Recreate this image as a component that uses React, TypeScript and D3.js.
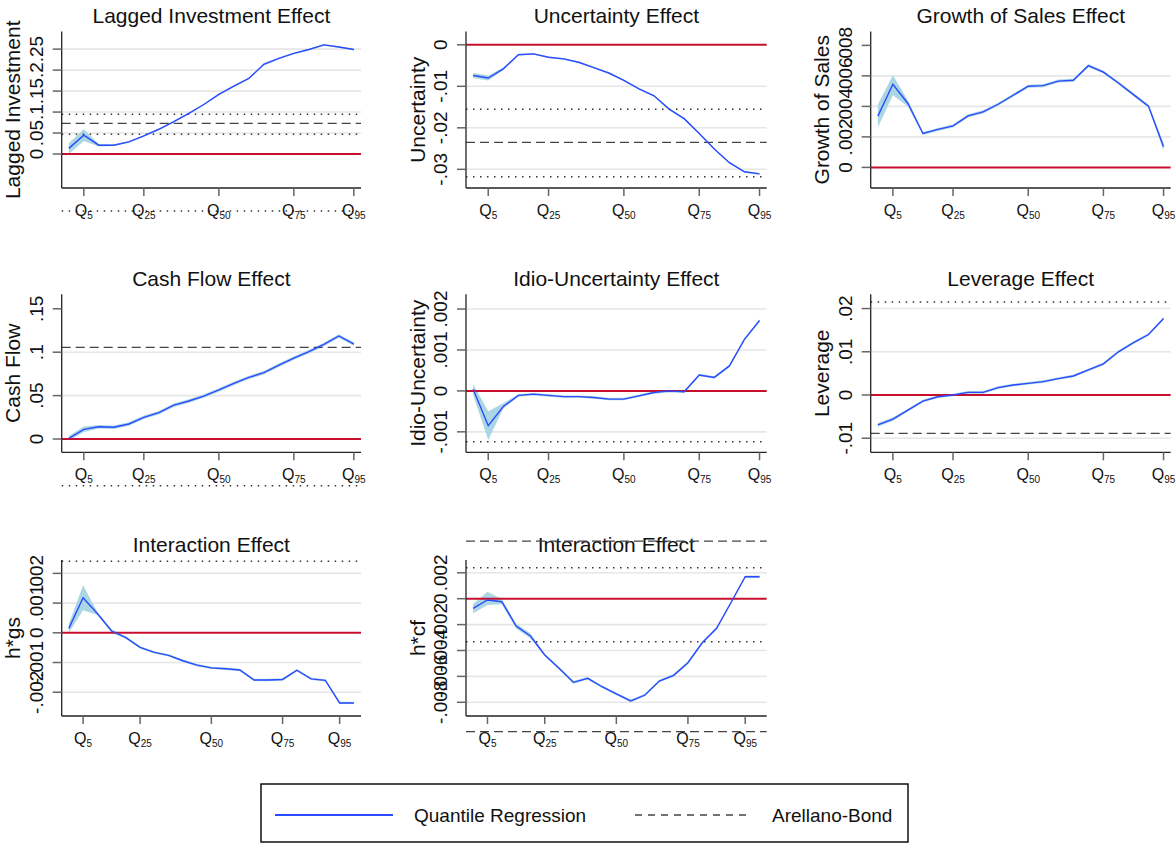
import React from 'react'
import * as d3 from 'd3'

// quantile grid used by the estimates
const quantiles = [0, 5, 10, 15, 20, 25, 30, 35, 40, 45, 50, 55, 60, 65, 70, 75, 80, 85, 90, 95]
const quantilesFull = [0, 5, 10, 15, 20, 25, 30, 35, 40, 45, 50, 55, 60, 65, 70, 75, 80, 85, 90, 95, 100]
const quantileTicks = [5, 25, 50, 75, 95]

// Lagged investment
const lagInvEst = [0.0135, 0.045, 0.021, 0.021, 0.029, 0.043, 0.059, 0.077, 0.097, 0.118, 0.142, 0.162, 0.18, 0.214, 0.228, 0.24, 0.249, 0.26, 0.255, 0.249]
const lagInvLo = [0.0, 0.031, 0.018, 0.019, 0.027, 0.041, 0.057, 0.075, 0.095, 0.116, 0.14, 0.16, 0.178, 0.211, 0.226, 0.238, 0.247, 0.258, 0.253, 0.247]
const lagInvHi = [0.026, 0.059, 0.024, 0.023, 0.031, 0.045, 0.061, 0.079, 0.099, 0.12, 0.144, 0.164, 0.182, 0.217, 0.23, 0.242, 0.251, 0.262, 0.257, 0.251]
const lagInvTicks = [0, 0.05, 0.1, 0.15, 0.2, 0.25]

// Uncertainty
const uncEst = [-0.0074, -0.008, -0.0058, -0.0024, -0.0022, -0.003, -0.0034, -0.0042, -0.0055, -0.0068, -0.0086, -0.0106, -0.0123, -0.0155, -0.0178, -0.0214, -0.0251, -0.0284, -0.0306, -0.0311]
const uncLo = [-0.008, -0.0086, -0.0061, -0.0026, -0.0024, -0.0032, -0.0036, -0.0044, -0.0057, -0.007, -0.0088, -0.0108, -0.0125, -0.0157, -0.018, -0.0216, -0.0253, -0.0286, -0.0308, -0.0313]
const uncHi = [-0.0068, -0.0074, -0.0055, -0.0022, -0.002, -0.0028, -0.0032, -0.004, -0.0053, -0.0066, -0.0084, -0.0104, -0.0121, -0.0153, -0.0176, -0.0212, -0.0249, -0.0282, -0.0304, -0.0309]
const uncTicks = [-0.03, -0.02, -0.01, 0]

// Growth of sales
const gsEst = [0.00336, 0.00545, 0.00419, 0.00222, 0.00249, 0.00272, 0.00338, 0.00364, 0.00414, 0.00473, 0.00532, 0.00536, 0.00566, 0.00571, 0.00667, 0.00625, 0.00553, 0.00477, 0.00401, 0.00135]
const gsLo = [0.00262, 0.00473, 0.00399, 0.00212, 0.00239, 0.00262, 0.00328, 0.00354, 0.00404, 0.00463, 0.00522, 0.00526, 0.00556, 0.00561, 0.00657, 0.00615, 0.00543, 0.00467, 0.00391, 0.0011]
const gsHi = [0.00413, 0.00604, 0.00439, 0.00232, 0.00259, 0.00282, 0.00348, 0.00374, 0.00424, 0.00483, 0.00542, 0.00546, 0.00576, 0.00581, 0.00677, 0.00635, 0.00563, 0.00487, 0.00411, 0.0016]
const gsTicks = [0, 0.002, 0.004, 0.006, 0.008]

// Cash flow
const cfEst = [0.0008, 0.0112, 0.0142, 0.0135, 0.0173, 0.025, 0.0303, 0.039, 0.0438, 0.0495, 0.0565, 0.064, 0.071, 0.0764, 0.085, 0.0933, 0.1006, 0.109, 0.1187, 0.1094]
const cfLo = [-0.002, 0.008, 0.0122, 0.0115, 0.0153, 0.023, 0.0283, 0.037, 0.0418, 0.0475, 0.0545, 0.062, 0.069, 0.0744, 0.083, 0.0913, 0.0986, 0.107, 0.1167, 0.1074]
const cfHi = [0.0036, 0.0144, 0.0162, 0.0155, 0.0193, 0.027, 0.0323, 0.041, 0.0458, 0.0515, 0.0585, 0.066, 0.073, 0.0784, 0.087, 0.0953, 0.1026, 0.111, 0.1207, 0.1114]
const cfTicks = [0, 0.05, 0.1, 0.15]

// Idio-uncertainty
const idioEst = [0.00004, -0.00085, -0.00038, -0.00011, -0.00008, -0.00011, -0.00014, -0.00014, -0.00016, -0.0002, -0.0002, -0.00012, -0.00004, 0, -0.00002, 0.00039, 0.00033, 0.00061, 0.00126, 0.00172]
const idioLo = [-0.0001, -0.0012, -0.00043, -0.00014, -0.00011, -0.00014, -0.00017, -0.00017, -0.00019, -0.00023, -0.00023, -0.00015, -0.00007, -0.00004, -0.00005, 0.00036, 0.0003, 0.00058, 0.00123, 0.00169]
const idioHi = [0.00016, -0.0005, -0.0003, -0.00008, -0.00005, -0.00008, -0.00011, -0.00011, -0.00013, -0.00017, -0.00017, -0.00009, -0.00001, 0.00003, 0.00001, 0.00042, 0.00036, 0.00064, 0.00129, 0.00175]
const idioTicks = [-0.001, 0, 0.001, 0.002]

// Leverage
const levEst = [-0.0069, -0.0056, -0.0035, -0.0014, -0.0004, 0, 0.0006, 0.0006, 0.0017, 0.0023, 0.0027, 0.0031, 0.0038, 0.0044, 0.0058, 0.0072, 0.01, 0.0121, 0.014, 0.0177]
const levLo = [-0.0073, -0.006, -0.0038, -0.0017, -0.0007, -0.0003, 0.0003, 0.0003, 0.0014, 0.002, 0.0024, 0.0028, 0.0035, 0.0041, 0.0055, 0.0069, 0.0097, 0.0118, 0.0137, 0.0174]
const levHi = [-0.0065, -0.0052, -0.0032, -0.0011, -0.0001, 0.0003, 0.0009, 0.0009, 0.002, 0.0026, 0.003, 0.0034, 0.0041, 0.0047, 0.0061, 0.0075, 0.0103, 0.0124, 0.0143, 0.018]
const levTicks = [-0.01, 0, 0.01, 0.02]

// Interaction h*gs
const hgsEst = [0.00015, 0.00118, 0.00065, 0.00006, -0.00016, -0.00049, -0.00066, -0.00076, -0.00094, -0.00109, -0.00118, -0.00121, -0.00125, -0.00159, -0.00159, -0.00157, -0.00126, -0.00155, -0.0016, -0.00236, -0.00236]
const hgsLo = [0.0, 0.00076, 0.0006, 0.0, -0.0002, -0.00053, -0.0007, -0.0008, -0.00098, -0.00113, -0.00122, -0.00125, -0.00129, -0.00163, -0.00163, -0.00161, -0.0013, -0.00159, -0.00164, -0.0024, -0.0024]
const hgsHi = [0.0003, 0.0016, 0.0007, 0.00012, -0.00012, -0.00045, -0.00062, -0.00072, -0.0009, -0.00105, -0.00114, -0.00117, -0.00121, -0.00155, -0.00155, -0.00153, -0.00122, -0.00151, -0.00156, -0.00232, -0.00232]
const hgsTicks = [-0.002, -0.001, 0, 0.001, 0.002]

// Interaction h*cf
const hcfEst = [-0.00074, -0.0001, -0.00023, -0.00211, -0.00288, -0.00435, -0.00538, -0.00646, -0.00615, -0.0068, -0.00736, -0.0079, -0.00744, -0.00636, -0.00592, -0.00494, -0.0034, -0.00229, -0.00031, 0.0017, 0.0017]
const hcfLo = [-0.00113, -0.00049, -0.00043, -0.00231, -0.00308, -0.00445, -0.00548, -0.00656, -0.00625, -0.0069, -0.00746, -0.008, -0.00754, -0.00646, -0.00602, -0.00504, -0.0035, -0.00239, -0.00041, 0.0016, 0.0016]
const hcfHi = [-0.00041, 0.00054, -0.00003, -0.00191, -0.00268, -0.00425, -0.00528, -0.00636, -0.00605, -0.0067, -0.00726, -0.0078, -0.00734, -0.00626, -0.00582, -0.00484, -0.0033, -0.00219, -0.00021, 0.0018, 0.0018]
const hcfTicks = [-0.008, -0.006, -0.004, -0.002, 0, 0.002]

// Arellano-Bond estimate (dashed) and its bounds (dotted)
const lagInvAB = [{ v: 0.073, kind: 'dash' }, { v: 0.095, kind: 'dot' }, { v: 0.047, kind: 'dot' }, { v: -0.136, kind: 'dot' }]
const uncAB = [{ v: -0.0235, kind: 'dash' }, { v: -0.0155, kind: 'dot' }, { v: -0.0318, kind: 'dot' }]
const cfAB = [{ v: 0.1056, kind: 'dash' }, { v: -0.0538, kind: 'dot' }]
const idioAB = [{ v: -0.00124, kind: 'dot' }]
const levAB = [{ v: -0.00887, kind: 'dash' }, { v: 0.0215, kind: 'dot' }]
const hgsAB = [{ v: 0.00241, kind: 'dot' }]
const hcfAB = [{ v: 0.00445, kind: 'dash' }, { v: -0.01027, kind: 'dash' }, { v: 0.00239, kind: 'dot' }, { v: -0.00332, kind: 'dot' }]

const panels = [
  { title: 'Lagged Investment Effect', ylab: 'Lagged Investment', col: 0, row: 0, q: quantiles, est: lagInvEst, lo: lagInvLo, hi: lagInvHi, yDom: [-0.081, 0.292], ticks: lagInvTicks, ab: lagInvAB, gridTop: true },
  { title: 'Uncertainty Effect', ylab: 'Uncertainty', col: 1, row: 0, q: quantiles, est: uncEst, lo: uncLo, hi: uncHi, yDom: [-0.0345, 0.0032], ticks: uncTicks, ab: uncAB, gridTop: true },
  { title: 'Growth of Sales Effect', ylab: 'Growth of Sales', col: 2, row: 0, q: quantiles, est: gsEst, lo: gsLo, hi: gsHi, yDom: [-0.00135, 0.00891], ticks: gsTicks, ab: [], gridTop: false },
  { title: 'Cash Flow Effect', ylab: 'Cash Flow', col: 0, row: 1, q: quantiles, est: cfEst, lo: cfLo, hi: cfHi, yDom: [-0.0153, 0.1667], ticks: cfTicks, ab: cfAB, gridTop: false },
  { title: 'Idio-Uncertainty Effect', ylab: 'Idio-Uncertainty', col: 1, row: 1, q: quantiles, est: idioEst, lo: idioLo, hi: idioHi, yDom: [-0.0015, 0.00236], ticks: idioTicks, ab: idioAB, gridTop: true },
  { title: 'Leverage Effect', ylab: 'Leverage', col: 2, row: 1, q: quantiles, est: levEst, lo: levLo, hi: levHi, yDom: [-0.01326, 0.0233], ticks: levTicks, ab: levAB, gridTop: true },
  { title: 'Interaction Effect', ylab: 'h*gs', col: 0, row: 2, q: quantilesFull, est: hgsEst, lo: hgsLo, hi: hgsHi, yDom: [-0.0028, 0.00245], ticks: hgsTicks, ab: hgsAB, gridTop: true },
  { title: 'Interaction Effect', ylab: 'h*cf', col: 1, row: 2, q: quantilesFull, est: hcfEst, lo: hcfLo, hi: hcfHi, yDom: [-0.00906, 0.00299], ticks: hcfTicks, ab: hcfAB, gridTop: true },
]

const colLeft = [61.7, 466, 870.7]
const colRight = [361, 766.7, 1170.7]
const rowTop = [31.5, 294.3, 560]
const rowBottom = [188, 452.3, 716]

const FONT = 'Arial, "Liberation Sans", Helvetica, sans-serif'
const BLUE = '#2a4bff'
const BAND = '#abd6e3'
const RED = '#c8102e'

const fmt = (v) => {
  if (v === 0) return '0'
  const s = String(+v.toPrecision(6))
  return s.replace(/^(-?)0\./, '$1.')
}

const Panel = ({ p }) => {
  const x0 = colLeft[p.col]
  const x1 = colRight[p.col]
  const y0 = rowTop[p.row]
  const y1 = rowBottom[p.row]
  const qMin = d3.min(p.q)
  const qMax = d3.max(p.q)
  const pad = (qMax - qMin) * 0.025
  const x = d3.scaleLinear().domain([qMin - pad, qMax + pad]).range([x0, x1])
  const y = d3.scaleLinear().domain(p.yDom).range([y1, y0])
  const idx = d3.range(p.q.length)

  const area = d3
    .area()
    .x((i) => x(p.q[i]))
    .y0((i) => y(p.lo[i]))
    .y1((i) => y(p.hi[i]))
  const line = d3
    .line()
    .x((i) => x(p.q[i]))
    .y((i) => y(p.est[i]))

  const topTick = d3.max(p.ticks)
  const gridTicks = p.ticks.filter((t) => t !== 0 && (p.gridTop || t !== topTick))
  const cy = (y0 + y1) / 2

  return (
    <g>
      <text x={(x0 + x1) / 2} y={y0 - 8.5} textAnchor="middle" fontSize={21} fill="#111">
        {p.title}
      </text>
      {gridTicks.map((t) => (
        <line key={'g' + t} x1={x0} x2={x1} y1={y(t)} y2={y(t)} stroke="#e6e6e6" strokeWidth={1.6} />
      ))}
      <path d={area(idx)} fill={BAND} />
      <line x1={x0} x2={x1} y1={y(0)} y2={y(0)} stroke={RED} strokeWidth={2} />
      {p.ab.map((a, k) => (
        <line
          key={'ab' + k}
          x1={x0}
          x2={x1}
          y1={y(a.v)}
          y2={y(a.v)}
          stroke={a.kind === 'dash' ? '#444' : '#333'}
          strokeWidth={a.kind === 'dash' ? 1.3 : 1.5}
          strokeDasharray={a.kind === 'dash' ? '9 5' : '1.5 5.5'}
        />
      ))}
      <path d={line(idx)} fill="none" stroke={BLUE} strokeWidth={1.4} />
      <line x1={x0} x2={x0} y1={y0} y2={y1} stroke="#222" strokeWidth={1.3} />
      <line x1={x0} x2={x1} y1={y1} y2={y1} stroke="#222" strokeWidth={1.3} />
      {p.ticks.map((t) => (
        <g key={'t' + t}>
          <line x1={x0 - 9} x2={x0} y1={y(t)} y2={y(t)} stroke="#666" strokeWidth={1.5} />
          <text
            transform={`translate(${x0 - 18.7},${y(t)}) rotate(-90)`}
            textAnchor="middle"
            fontSize={19}
            fill="#111"
          >
            {fmt(t)}
          </text>
        </g>
      ))}
      {quantileTicks.map((t) => (
        <g key={'x' + t}>
          <line x1={x(t)} x2={x(t)} y1={y1} y2={y1 + 8} stroke="#666" strokeWidth={1.5} />
          <text x={x(t)} y={y1 + 28} textAnchor="middle" fontSize={16} fill="#111">
            Q
            <tspan fontSize={10} dy={3}>
              {t}
            </tspan>
          </text>
        </g>
      ))}
      <text
        transform={`translate(${x0 - 41.5},${cy}) rotate(-90)`}
        textAnchor="middle"
        fontSize={21}
        fill="#111"
      >
        {p.ylab}
      </text>
    </g>
  )
}

const App = () => {
  return (
    <div>
      <style>{'body{margin:0;background:#fff}'}</style>
      <svg width={1176} height={843} style={{ display: 'block', fontFamily: FONT }}>
        <rect width={1176} height={843} fill="#fff" />
        {panels.map((p, i) => (
          <Panel key={i} p={p} />
        ))}
        <g>
          <rect x={261} y={784} width={647} height={58} fill="none" stroke="#111" strokeWidth={1.5} />
          <line x1={275} x2={393} y1={815} y2={815} stroke={BLUE} strokeWidth={2} />
          <text x={414} y={821.5} fontSize={19} fill="#111">
            Quantile Regression
          </text>
          <line x1={635} x2={751} y1={815} y2={815} stroke="#444" strokeWidth={1.3} strokeDasharray="7 6" />
          <text x={772} y={821.5} fontSize={19} fill="#111">
            Arellano-Bond
          </text>
        </g>
      </svg>
    </div>
  )
}

export default App
